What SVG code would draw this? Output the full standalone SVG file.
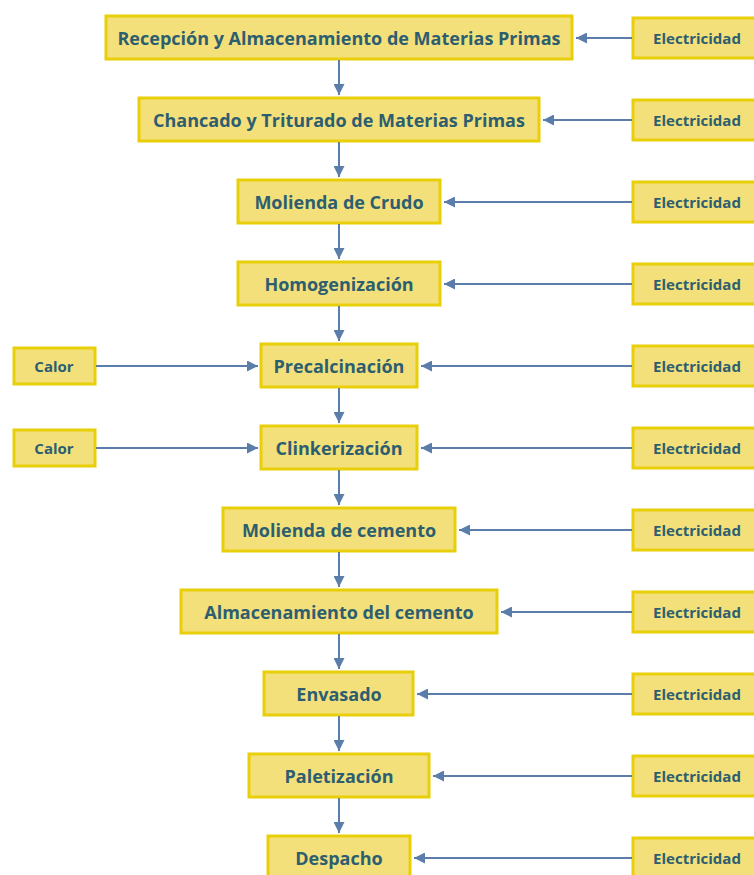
<svg xmlns="http://www.w3.org/2000/svg" width="754" height="875" viewBox="0 0 754 875">
  <defs>
    <marker id="arrow" viewBox="0 0 10 10" refX="10" refY="5" markerWidth="11" markerHeight="11" markerUnits="userSpaceOnUse" orient="auto">
      <path d="M0,0 L10,5 L0,10 Z" fill="#5a7daa"/>
    </marker>
    <style>
      .box { fill: #f3e07b; stroke: #e8cf0a; stroke-width: 3; }
      .t { font-family: "Open Sans", "Liberation Sans", sans-serif; font-weight: 700; fill: #2d5e70; text-anchor: middle; dominant-baseline: central; }
      .main { font-size: 18px; }
      .side { font-size: 15px; }
      .conn { stroke: #5a7daa; stroke-width: 2; fill: none; marker-end: url(#arrow); }
    </style>
  </defs>
  <rect width="754" height="875" fill="#ffffff"/>

  <!-- process steps -->
  <g id="recepcion"><rect class="box" x="106" y="16" width="466" height="43"/><text class="t main" x="339" y="38">Recepción y Almacenamiento de Materias Primas</text></g>
  <g id="chancado"><rect class="box" x="139" y="98" width="400" height="43"/><text class="t main" x="339" y="120">Chancado y Triturado de Materias Primas</text></g>
  <g id="molienda-crudo"><rect class="box" x="238" y="180" width="202" height="43"/><text class="t main" x="339" y="202">Molienda de Crudo</text></g>
  <g id="homogenizacion"><rect class="box" x="238" y="262" width="202" height="43"/><text class="t main" x="339" y="284">Homogenización</text></g>
  <g id="precalcinacion"><rect class="box" x="261" y="344" width="156" height="43"/><text class="t main" x="339" y="366">Precalcinación</text></g>
  <g id="clinkerizacion"><rect class="box" x="261" y="426" width="156" height="43"/><text class="t main" x="339" y="448">Clinkerización</text></g>
  <g id="molienda-cemento"><rect class="box" x="223" y="508" width="232" height="43"/><text class="t main" x="339" y="530">Molienda de cemento</text></g>
  <g id="almacenamiento"><rect class="box" x="181" y="590" width="316" height="43"/><text class="t main" x="339" y="612">Almacenamiento del cemento</text></g>
  <g id="envasado"><rect class="box" x="264" y="672" width="149" height="43"/><text class="t main" x="339" y="694">Envasado</text></g>
  <g id="paletizacion"><rect class="box" x="249" y="754" width="180" height="43"/><text class="t main" x="339" y="776">Paletización</text></g>
  <g id="despacho"><rect class="box" x="268" y="836" width="142" height="43"/><text class="t main" x="339" y="858">Despacho</text></g>

  <!-- energy inputs -->
  <g id="elec-1"><rect class="box" x="633" y="18" width="130" height="40"/><text class="t side" x="697" y="38">Electricidad</text></g>
  <g id="elec-2"><rect class="box" x="633" y="100" width="130" height="40"/><text class="t side" x="697" y="120">Electricidad</text></g>
  <g id="elec-3"><rect class="box" x="633" y="182" width="130" height="40"/><text class="t side" x="697" y="202">Electricidad</text></g>
  <g id="elec-4"><rect class="box" x="633" y="264" width="130" height="40"/><text class="t side" x="697" y="284">Electricidad</text></g>
  <g id="elec-5"><rect class="box" x="633" y="346" width="130" height="40"/><text class="t side" x="697" y="366">Electricidad</text></g>
  <g id="elec-6"><rect class="box" x="633" y="428" width="130" height="40"/><text class="t side" x="697" y="448">Electricidad</text></g>
  <g id="elec-7"><rect class="box" x="633" y="510" width="130" height="40"/><text class="t side" x="697" y="530">Electricidad</text></g>
  <g id="elec-8"><rect class="box" x="633" y="592" width="130" height="40"/><text class="t side" x="697" y="612">Electricidad</text></g>
  <g id="elec-9"><rect class="box" x="633" y="674" width="130" height="40"/><text class="t side" x="697" y="694">Electricidad</text></g>
  <g id="elec-10"><rect class="box" x="633" y="756" width="130" height="40"/><text class="t side" x="697" y="776">Electricidad</text></g>
  <g id="elec-11"><rect class="box" x="633" y="838" width="130" height="40"/><text class="t side" x="697" y="858">Electricidad</text></g>
  <g id="calor-1"><rect class="box" x="14" y="348" width="81" height="36"/><text class="t side" x="54" y="366">Calor</text></g>
  <g id="calor-2"><rect class="box" x="14" y="430" width="81" height="36"/><text class="t side" x="54" y="448">Calor</text></g>

  <!-- connectors -->
  <g id="connectors">
    <path class="conn" d="M339,60 V95"/>
    <path class="conn" d="M339,142 V177"/>
    <path class="conn" d="M339,224 V259"/>
    <path class="conn" d="M339,306 V341"/>
    <path class="conn" d="M339,388 V423"/>
    <path class="conn" d="M339,470 V505"/>
    <path class="conn" d="M339,552 V587"/>
    <path class="conn" d="M339,634 V669"/>
    <path class="conn" d="M339,716 V751"/>
    <path class="conn" d="M339,798 V833"/>

    <path class="conn" d="M632,38 H576"/>
    <path class="conn" d="M632,120 H543"/>
    <path class="conn" d="M632,202 H444"/>
    <path class="conn" d="M632,284 H444"/>
    <path class="conn" d="M632,366 H421"/>
    <path class="conn" d="M632,448 H421"/>
    <path class="conn" d="M632,530 H459"/>
    <path class="conn" d="M632,612 H501"/>
    <path class="conn" d="M632,694 H417"/>
    <path class="conn" d="M632,776 H433"/>
    <path class="conn" d="M632,858 H414"/>

    <path class="conn" d="M96,366 H258"/>
    <path class="conn" d="M96,448 H258"/>
  </g>
</svg>
